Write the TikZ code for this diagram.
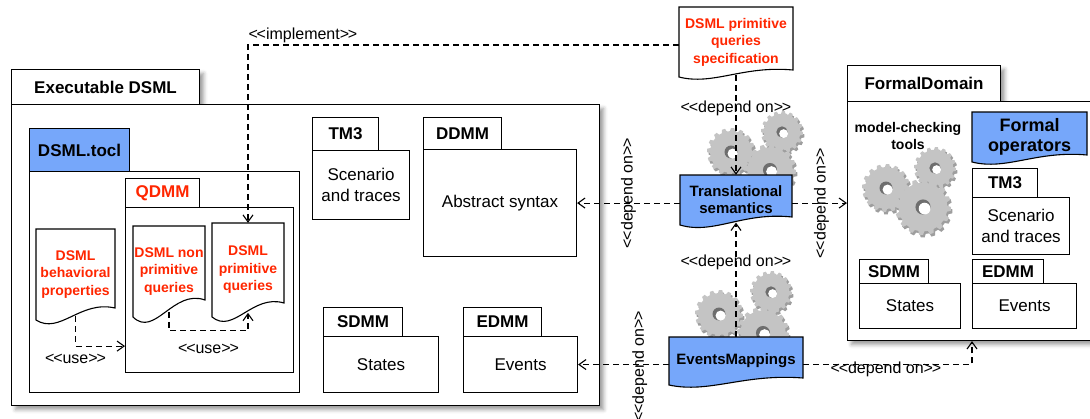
\documentclass[tikz,border=0pt]{standalone}
\usepackage{fontspec}
\setmainfont{Liberation Sans}
\usetikzlibrary{arrows.meta,calc,shadows.blur}

\definecolor{dslblue}{RGB}{118,167,250}
\definecolor{dslred}{RGB}{255,38,0}
\definecolor{gearface}{RGB}{196,196,196}
\definecolor{gearside}{RGB}{158,158,158}
\definecolor{gearhole}{RGB}{110,110,110}

% stereotype text such as <<use>>
\newcommand\stt[1]{<\kern-1.2pt<#1>\kern-1.2pt>}

% document symbol with a wavy bottom edge:
% #1 name, #2 left, #3 top, #4 right, #5 bottom at left, #6 bottom at right, #7 kind, #8 text
\newcommand\docnode[8]{%
  \pgfmathsetmacro\docW{#4-#2}%
  \pgfmathsetmacro\docA{#5-#6}%
  \path[docline,#7] (#2,#3) -- (#4,#3) -- (#4,#6)
    .. controls ({#4-0.44*\docW},{#6-0.67*\docA}) and ({#2+0.3*\docW},{#5+1.25*\docA}) .. (#2,#5) -- cycle;
  \node[doctext,#7 text,minimum width=\docW pt,minimum height={(#5-#3)*1pt}] (#1) at ({(#2+#4)/2},{(#3+#5)/2}) {#8};
  \coordinate (#1-w) at ({(#2+#4)/2},{(#5+#6)/2+0.2*\docA});
}

% gear wheel seen slightly from above: #1 x, #2 y, #3 outer radius
\newcommand\gear[3]{%
  \pgfmathsetmacro\gearR{#3}%
  \pgfmathsetmacro\gearr{0.87*#3}%
  \pgfmathsetmacro\gearh{0.27*#3}%
  \pgfmathsetmacro\gearo{0.21*#3}%
  \begin{scope}[shift={(#1,#2)}]
    \fill[gearside,shift={(1.5,2.5)}] (0:\gearR) \foreach \k in {1,...,16}{
      -- ({(\k-1)*22.5+8}:\gearR) -- ({(\k-1)*22.5+11}:\gearr) -- ({\k*22.5-3}:\gearr) -- ({\k*22.5}:\gearR)} -- cycle;
    \fill[gearface] (0:\gearR) \foreach \k in {1,...,16}{
      -- ({(\k-1)*22.5+8}:\gearR) -- ({(\k-1)*22.5+11}:\gearr) -- ({\k*22.5-3}:\gearr) -- ({\k*22.5}:\gearR)} -- cycle;
    \fill[gearhole] (0,0) circle[radius=\gearh];
    \fill[white] (1.6,1.6) circle[radius=\gearo];
  \end{scope}}

\begin{document}
\begin{tikzpicture}[x=1pt,y=-1pt,
  pkgtab/.style={draw,fill=white,line width=1.1pt,inner sep=0pt,anchor=north west,
    font=\bfseries\fontsize{17}{20}\selectfont},
  pkgbody/.style={draw,fill=white,line width=1.1pt,inner sep=0pt,anchor=north west,
    align=center,font=\fontsize{17}{21}\selectfont},
  shadowed/.style={blur shadow={shadow xshift=4pt,shadow yshift=-4pt,shadow blur radius=4pt,shadow opacity=40}},
  docline/.style={draw,fill=white,line width=1.1pt},
  doctext/.style={inner sep=0pt,align=center,text=dslred,font=\bfseries\fontsize{14}{17.5}\selectfont},
  reddoc/.style={}, reddoc text/.style={},
  bluedoc/.style={fill=dslblue}, bluedoc text/.style={text=black,font=\bfseries\fontsize{15}{17}\selectfont},
  bigdoc/.style={fill=dslblue}, bigdoc text/.style={text=black,font=\bfseries\fontsize{18}{20}\selectfont},
  dep/.style={line width=1.1pt,dash pattern=on 6pt off 4pt,-{Straight Barb[length=7pt,width=10pt]}},
  stereo/.style={inner sep=0pt,font=\fontsize{16}{18}\selectfont}]

\useasboundingbox (0,0) rectangle (1090,418);
\clip (0,0) rectangle (1090,418);

% ---------- Executable DSML ----------
\node[pkgtab,shadowed,minimum width=188pt,minimum height=35pt] (exec-tab) at (11,69) {Executable DSML};
\node[pkgbody,shadowed,minimum width=588pt,minimum height=301pt] (exec) at (11,104) {};

\node[pkgtab,fill=dslblue,minimum width=100pt,minimum height=43pt] (tocl-tab) at (29,128) {DSML.tocl};
\node[pkgbody,minimum width=270pt,minimum height=221pt] (tocl) at (29,171) {};

\node[pkgtab,text=dslred,minimum width=74pt,minimum height=29pt] (qdmm-tab) at (125,178) {QDMM};
\node[pkgbody,minimum width=168pt,minimum height=165pt] (qdmm) at (125,207) {};

\docnode{bp}{36}{229}{115}{320}{308}{reddoc}{DSML\\behavioral\\properties}
\docnode{np}{133}{226}{205}{317}{300}{reddoc}{DSML non\\primitive\\queries}
\docnode{pq}{212}{223}{284}{317}{303}{reddoc}{DSML\\primitive\\queries}

\node[pkgtab,minimum width=66pt,minimum height=33pt] (tm-tab) at (312,117) {TM3};
\node[pkgbody,minimum width=97pt,minimum height=69pt] (tm) at (312,150) {Scenario\\and traces};

\node[pkgtab,minimum width=78pt,minimum height=32pt] (ddmm-tab) at (423,117) {DDMM};
\node[pkgbody,minimum width=153pt,minimum height=107pt] (ddmm) at (423,149) {Abstract syntax};

\node[pkgtab,minimum width=79pt,minimum height=29pt] (sdmm-tab) at (323,307) {SDMM};
\node[pkgbody,minimum width=115pt,minimum height=56pt] (sdmm) at (323,336) {States};

\node[pkgtab,minimum width=78pt,minimum height=29pt] (edmm-tab) at (463,307) {EDMM};
\node[pkgbody,minimum width=114pt,minimum height=56pt] (edmm) at (463,336) {Events};

% ---------- FormalDomain ----------
\node[pkgtab,shadowed,minimum width=153pt,minimum height=36pt] (fd-tab) at (847,65) {FormalDomain};
\node[pkgbody,shadowed,minimum width=253pt,minimum height=239pt] (fd) at (847,101) {};

\gear{886}{188}{24}
\gear{935}{168}{21}
\gear{923}{207}{28}
\node[inner sep=0pt,align=center,font=\bfseries\fontsize{14}{17}\selectfont] (mct) at (908,136) {model-checking\\tools};

\docnode{fop}{972}{112}{1087}{162}{155}{bigdoc}{Formal\\operators}

\node[pkgtab,minimum width=65pt,minimum height=29pt] (ftm-tab) at (972,168) {TM3};
\node[pkgbody,minimum width=97pt,minimum height=57pt] (ftm) at (972,197) {Scenario\\and traces};

\node[pkgtab,minimum width=69pt,minimum height=24pt] (fsdmm-tab) at (859,259) {SDMM};
\node[pkgbody,minimum width=101pt,minimum height=45pt] (fsdmm) at (859,283) {States};

\node[pkgtab,minimum width=71pt,minimum height=24pt] (fedmm-tab) at (972,259) {EDMM};
\node[pkgbody,minimum width=104pt,minimum height=45pt] (fedmm) at (972,283) {Events};

% ---------- mappings in the middle ----------
\gear{731}{152}{24}
\gear{782}{132}{21}
\gear{770}{170}{26}
\docnode{spec}{679}{7}{793}{77}{70}{reddoc}{DSML primitive\\queries\\specification}
\docnode{trans}{680}{175}{792}{225}{217}{bluedoc}{Translational\\semantics}

\gear{719}{314}{24}
\gear{771}{292}{21}
\gear{763}{333}{26}
\docnode{em}{669}{337}{803}{385}{378}{bluedoc}{EventsMappings}

% ---------- dependencies ----------
\draw[dep] ([yshift=-3pt]spec.west) -| node[stereo,pos=0.5,anchor=west,yshift=10pt]{\stt{implement}} (pq.north);
\draw[dep] (bp-w) |- node[stereo,pos=0.5,yshift=-13pt]{\stt{use}} ([yshift=27pt]qdmm.south west);
\draw[dep] (np-w) -- ([yshift=-19pt]np-w) -| node[stereo,pos=0.25,yshift=-18pt]{\stt{use}} (pq-w);

\draw[dep] (spec-w) -- node[stereo,pos=0.33]{\stt{depend on}} (spec-w |- trans.north);
\draw[dep] (ddmm.east -| trans.west) -- node[stereo,yshift=10pt,rotate=90]{\stt{depend on}} (ddmm.east);
\draw[dep] (ddmm.east -| trans.east) -- node[stereo,xshift=2pt,rotate=90]{\stt{depend on}} (ddmm.east -| fd.west);

\draw[dep] (em.north) -- node[stereo,pos=0.65]{\stt{depend on}} (em.north |- trans-w);
\draw[dep] (edmm.east -| em.west) -- node[stereo,pos=0.32,yshift=-2pt,rotate=90]{\stt{depend on}} (edmm.east);
\draw[dep] (edmm.east -| em.east) -| node[stereo,pos=0.245,yshift=-5pt]{\stt{depend on}} (fedmm.south west |- fd.south);

\end{tikzpicture}
\end{document}
